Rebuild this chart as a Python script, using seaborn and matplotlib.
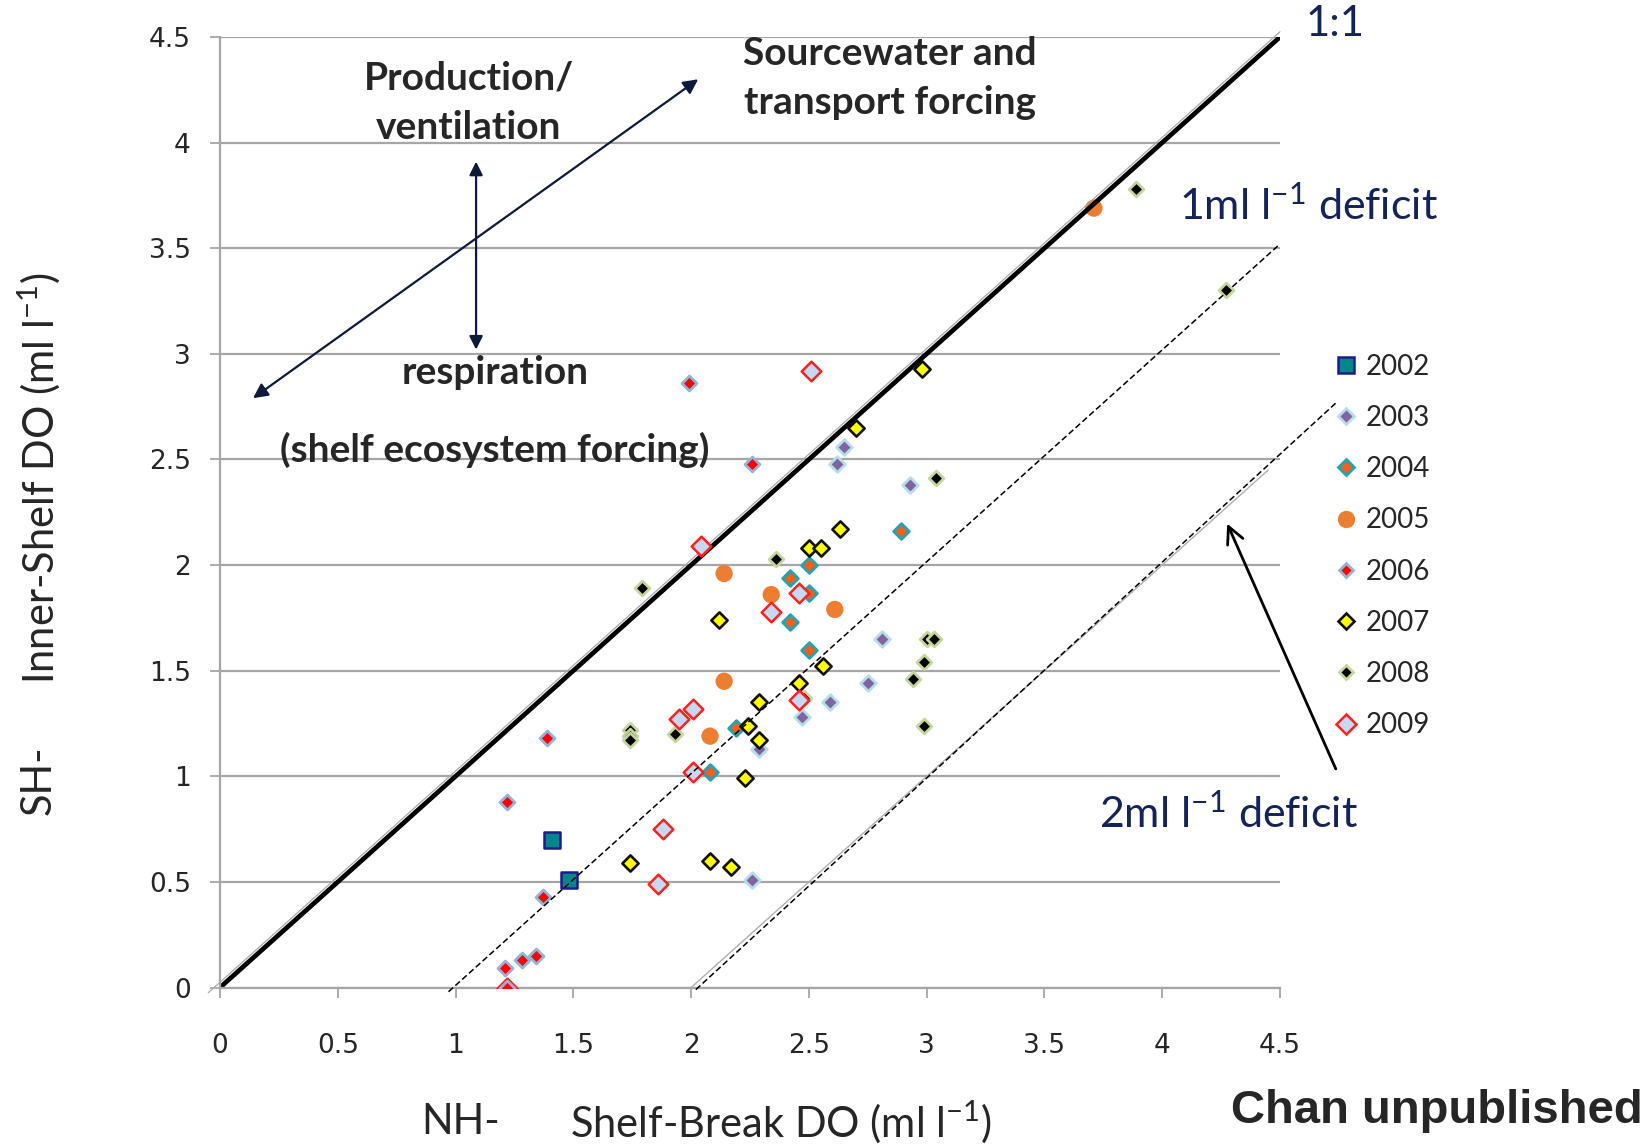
import matplotlib
matplotlib.use("Agg")
import matplotlib.pyplot as plt
import seaborn as sns
import pandas as pd
from matplotlib.lines import Line2D

# ---- data: shelf-break (NH) vs inner-shelf (SH) dissolved oxygen, ml l-1 ----
years = ["2002", "2003", "2004", "2005", "2006", "2007", "2008", "2009"]

nh_2002 = [1.41, 1.48]
sh_2002 = [0.70, 0.51]

nh_2003 = [2.26, 2.29, 2.47, 2.59, 2.75, 2.81, 2.93, 2.62, 2.65]
sh_2003 = [0.51, 1.13, 1.28, 1.35, 1.44, 1.65, 2.38, 2.48, 2.56]

nh_2004 = [2.89, 2.50, 2.42, 2.50, 2.42, 2.50, 2.19, 2.08]
sh_2004 = [2.16, 2.00, 1.94, 1.87, 1.73, 1.60, 1.23, 1.02]

nh_2005 = [2.14, 2.34, 2.61, 2.14, 2.08, 3.71]
sh_2005 = [1.96, 1.86, 1.79, 1.45, 1.19, 3.69]

nh_2006 = [1.99, 2.26, 1.39, 1.22, 1.37, 1.21, 1.28, 1.34, 1.22]
sh_2006 = [2.86, 2.48, 1.18, 0.88, 0.43, 0.09, 0.13, 0.15, 0.00]

nh_2007 = [2.98, 2.70, 2.63, 2.50, 2.55, 2.56, 2.46, 2.12, 2.29, 2.24, 2.29,
           2.23, 1.74, 2.08, 2.17]
sh_2007 = [2.93, 2.65, 2.17, 2.08, 2.08, 1.52, 1.44, 1.74, 1.35, 1.24, 1.17,
           0.99, 0.59, 0.60, 0.57]

nh_2008 = [3.89, 4.27, 3.04, 3.00, 3.03, 2.99, 2.94, 2.99, 2.36, 1.79, 1.93,
           1.74, 1.74, 1.74, 2.48]
sh_2008 = [3.78, 3.30, 2.41, 1.65, 1.65, 1.54, 1.46, 1.24, 2.03, 1.89, 1.20,
           1.22, 1.19, 1.17, 1.37]

nh_2009 = [2.51, 2.04, 2.46, 2.34, 2.46, 2.01, 1.95, 2.01, 1.88, 1.86, 1.22]
sh_2009 = [2.92, 2.09, 1.87, 1.78, 1.36, 1.32, 1.27, 1.02, 0.75, 0.49, 0.00]

nh_values = [nh_2002, nh_2003, nh_2004, nh_2005, nh_2006, nh_2007, nh_2008, nh_2009]
sh_values = [sh_2002, sh_2003, sh_2004, sh_2005, sh_2006, sh_2007, sh_2008, sh_2009]

df = pd.concat(
    [pd.DataFrame({"year": y, "nh": nx, "sh": sy})
     for y, nx, sy in zip(years, nh_values, sh_values)],
    ignore_index=True,
)

# marker, face, edge, area (pt^2), edge width, zorder
styles = {
    "2002": ("s", "#00868b", "#1c1c8c", 120, 1.8, 3),
    "2003": ("D", "#8064a2", "#b7dee8", 64, 2.0, 3),
    "2004": ("D", "#f2601c", "#1fa3b5", 64, 2.0, 3),
    "2005": ("o", "#ed7d31", "none", 155, 0.0, 2),
    "2006": ("D", "#ff0000", "#95b3d7", 58, 2.0, 3.3),
    "2007": ("D", "#ffff00", "#111111", 68, 1.9, 3),
    "2008": ("D", "#000000", "#c3d69b", 56, 2.0, 3),
    "2009": ("D", "#c6d9f1", "#ff2020", 100, 1.8, 3.2),
}

sns.set_theme(style="white")
plt.rcParams["font.family"] = ["Lato", "DejaVu Sans"]
plt.rcParams["mathtext.default"] = "regular"

navy = "#14235a"
grid_col = "#a6a6a6"

fig = plt.figure(figsize=(16.52, 11.46), dpi=100)
ax = fig.add_axes([0.1332, 0.1383, 0.6416, 0.8294])

for yr in years:
    m, fc, ec, s, lw, z = styles[yr]
    sub = df[df["year"] == yr]
    sns.scatterplot(data=sub, x="nh", y="sh", marker=m, s=s, color=fc,
                    edgecolor=ec, linewidth=lw, ax=ax, zorder=z, legend=False)

# 1:1 line with its faint companion
ax.plot([-0.05, 4.5], [-0.025, 4.525], color="#a8a8a8", lw=0.9, zorder=2.3,
        clip_on=False)
ax.plot([0, 4.5], [0, 4.5], color="black", lw=3.4, zorder=2.5,
        solid_capstyle="butt")

# deficit lines
ax.plot([0.97, 4.5], [-0.02, 3.52], color="black", lw=1.1, ls=(0, (4, 2)),
        zorder=4, clip_on=False)
ax.plot([1.99, 4.45], [-0.01, 2.45], color="#b0b0b0", lw=1.0, zorder=3.9)
ax.plot([2.02, 4.74], [-0.01, 2.77], color="black", lw=1.1, ls=(0, (4, 2)),
        zorder=4, clip_on=False)

ax.set_xlim(0, 4.5)
ax.set_ylim(0, 4.5)
ticks = [0, 0.5, 1, 1.5, 2, 2.5, 3, 3.5, 4, 4.5]
tick_labels = ["0", "0.5", "1", "1.5", "2", "2.5", "3", "3.5", "4", "4.5"]
ax.set_xticks(ticks)
ax.set_yticks(ticks)
ax.set_xticklabels(tick_labels, fontfamily="DejaVu Sans", fontsize=19)
ax.set_yticklabels(tick_labels, fontfamily="DejaVu Sans", fontsize=19)
ax.set_xlabel("")
ax.set_ylabel("")
ax.tick_params(axis="x", direction="out", length=7, width=1.3, color=grid_col,
               pad=26, bottom=True)
ax.tick_params(axis="y", direction="out", length=7, width=1.3, color=grid_col,
               pad=14, left=True)
for side in ["top", "right"]:
    ax.spines[side].set_visible(False)
for side in ["left", "bottom"]:
    ax.spines[side].set_color(grid_col)
    ax.spines[side].set_linewidth(1.6)
ax.yaxis.grid(True, color=grid_col, lw=1.6)
ax.xaxis.grid(False)
ax.set_axisbelow(True)

# interpretive annotations
arrow_col = "#0d1a3a"
ax.annotate("", xy=(2.03, 4.30), xytext=(0.14, 2.79),
            arrowprops=dict(arrowstyle="<|-|>", color=arrow_col, lw=1.6,
                            mutation_scale=22, shrinkA=0, shrinkB=0))
ax.annotate("", xy=(1.087, 3.91), xytext=(1.087, 3.02),
            arrowprops=dict(arrowstyle="<|-|>", color=arrow_col, lw=1.6,
                            mutation_scale=20, shrinkA=0, shrinkB=0))
ax.text(1.056, 4.19, "Production/\nventilation", ha="center", va="center",
        fontsize=28, fontweight="bold", linespacing=1.5)
ax.text(2.845, 4.307, "Sourcewater and\ntransport forcing", ha="center",
        va="center", fontsize=28, fontweight="bold", linespacing=1.5)
ax.text(1.167, 2.914, "respiration", ha="center", va="center", fontsize=28,
        fontweight="bold")
ax.text(1.167, 2.545, "(shelf ecosystem forcing)", ha="center", va="center",
        fontsize=28, fontweight="bold")

ax.text(4.733, 4.562, "1:1", ha="center", va="center", fontsize=30,
        color=navy, clip_on=False)
ax.text(4.62, 3.703, "1ml l$^{-1}$ deficit", ha="center", va="center",
        fontsize=31, color=navy, clip_on=False)
ax.text(4.281, 0.82, "2ml l$^{-1}$ deficit", ha="center", va="center",
        fontsize=31, color=navy, clip_on=False)
ax.annotate("", xy=(4.276, 2.196), xytext=(4.737, 1.035),
            arrowprops=dict(arrowstyle="->", color="black", lw=2.0,
                            mutation_scale=30, shrinkA=0, shrinkB=0),
            annotation_clip=False)

# axis titles
fig.text(0.0236, 0.5829, "Inner-Shelf DO (ml l$^{-1}$)", rotation=90,
         ha="center", va="center", fontsize=30)
fig.text(0.0236, 0.3194, "SH-", rotation=90, ha="center", va="center",
         fontsize=30)
fig.text(0.2787, 0.0209, "NH-", ha="center", va="center", fontsize=30)
fig.text(0.4726, 0.0209, "Shelf-Break DO (ml l$^{-1}$)", ha="center",
         va="center", fontsize=30)
fig.text(0.870, 0.0305, "Chan unpublished", ha="center", va="center",
         fontsize=34, fontweight="bold", fontfamily="Liberation Sans")

# legend
handles = []
for yr in years:
    m, fc, ec, s, lw, z = styles[yr]
    handles.append(Line2D([], [], ls="none", marker=m, markersize=s ** 0.5,
                          markerfacecolor=fc, markeredgecolor=ec,
                          markeredgewidth=lw))
ax.legend(handles, years, loc="upper left", bbox_to_anchor=(0.8063, 0.6915),
          bbox_transform=fig.transFigure, frameon=False,
          prop={"family": "Lato", "size": 20}, handlelength=1.0,
          handletextpad=0.22, labelspacing=0.91, borderpad=0,
          borderaxespad=0)

fig.savefig("out.png", dpi=100)
